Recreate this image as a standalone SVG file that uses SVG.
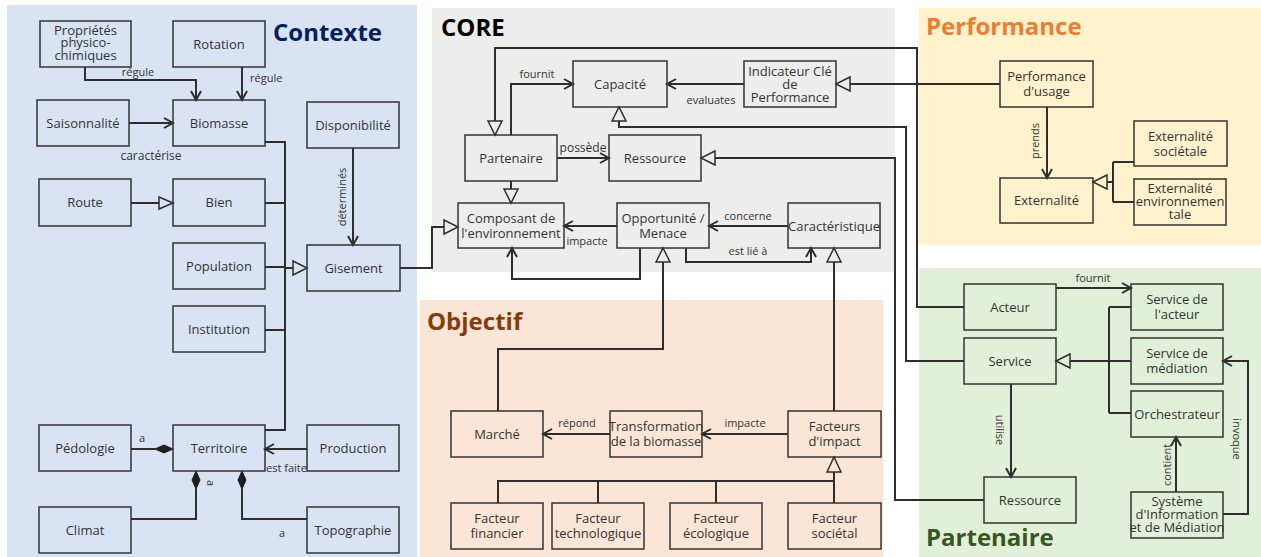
<svg xmlns="http://www.w3.org/2000/svg" width="1261" height="557" viewBox="0 0 1261 557">
<defs>
<marker id="open" markerUnits="userSpaceOnUse" markerWidth="12" markerHeight="12" refX="9" refY="5" orient="auto" overflow="visible">
<path d="M0,0 L9,5 L0,10" fill="none" stroke="#2e2e2e" stroke-width="2"/>
</marker>
<style>
.panel{stroke:none}
.n rect{fill:none;stroke:#333;stroke-width:1.5}
.n text,.lbl{font-family:"Open Sans","Noto Sans","DejaVu Sans",sans-serif;fill:#333}
.n text{font-size:13px;text-anchor:middle}
.lbl{font-size:11px}
.c path{fill:none;stroke:#2e2e2e;stroke-width:2}
.c .a{marker-end:url(#open)}
.tri{stroke:#2e2e2e;stroke-width:1.5}
.dia{fill:#1f1f1f;stroke:#1f1f1f;stroke-width:1}
.title{font-family:"Open Sans","Noto Sans",sans-serif;font-weight:bold;font-size:24px}
</style>
</defs>
<rect width="1261" height="557" fill="#ffffff"/>
<!-- panels -->
<rect class="panel" x="7" y="5" width="410" height="552" fill="#dae3f3"/>
<rect class="panel" x="432" y="8" width="463" height="264" fill="#ededed"/>
<rect class="panel" x="420" y="300" width="463" height="257" fill="#fbe5d6"/>
<rect class="panel" x="919" y="8" width="342" height="237" fill="#fff2cc"/>
<rect class="panel" x="919" y="268" width="342" height="289" fill="#e2f0d9"/>
<text class="title" x="273" y="41" fill="#002060">Contexte</text>
<text class="title" x="441" y="36" fill="#000000">CORE</text>
<text class="title" x="926" y="35" fill="#ed7d31">Performance</text>
<text class="title" x="427" y="330" fill="#843c0c">Objectif</text>
<text class="title" x="926" y="546" fill="#375623">Partenaire</text>

<!-- connectors -->
<g id="connectors" class="c">
<!-- Contexte -->
<path class="a" d="M85,67 V80 H196 V100"/>
<path class="a" d="M242,67 V100"/>
<path class="a" d="M129,123 H173"/>
<path d="M131,203 H159"/>
<polygon class="tri" points="159,197 173,203 159,209" fill="#dae3f3"/>
<path d="M265,142 H285 V430 H265"/>
<path d="M265,203 H285 M265,267 H285 M265,330 H285"/>
<path d="M285,268 H293"/>
<polygon class="tri" points="293,261 307,268 293,275" fill="#dae3f3"/>
<path class="a" d="M353,148 V245"/>
<path d="M400,268 H432 V227 H444"/>
<polygon class="tri" points="444,220 458,227 444,234" fill="#ededed"/>
<path d="M131,449 H155"/>
<polygon class="dia" points="155,449 164,445 173,449 164,453"/>
<path class="a" d="M307,449 H265"/>
<path d="M131,519 H196 V489"/>
<polygon class="dia" points="196,489 192,480 196,471 200,480"/>
<path d="M307,519 H242 V489"/>
<polygon class="dia" points="242,489 238,480 242,471 246,480"/>
<!-- CORE -->
<path class="a" d="M744,84 H667"/>
<path d="M1000,84 H850"/>
<polygon class="tri" points="850,77 836,84 850,91" fill="#ededed"/>
<path d="M964,307 H917 V48 H495 V121"/>
<polygon class="tri" points="488,121 495,135 502,121" fill="#ededed"/>
<path d="M964,361 H906 V127 H619 V121"/>
<polygon class="tri" points="612,121 619,107 626,121" fill="#ededed"/>
<path d="M984,500 H895 V158 H715"/>
<polygon class="tri" points="715,151 701,158 715,165" fill="#ededed"/>
<path class="a" d="M557,158 H609"/>
<path class="a" d="M511,135 V84 H573"/>
<path d="M511,181 V189"/>
<polygon class="tri" points="504,189 511,203 518,189" fill="#ededed"/>
<path class="a" d="M617,226 H564"/>
<path class="a" d="M788,226 H709"/>
<path class="a" d="M686,248 V262 H811 V248"/>
<path class="a" d="M640,248 V279 H512 V248"/>
<path d="M498,411 V349 H663 V262"/>
<polygon class="tri" points="656,262 663,248 670,262" fill="#ededed"/>
<path d="M834,411 V262"/>
<polygon class="tri" points="827,262 834,248 841,262" fill="#ededed"/>
<!-- Objectif -->
<path class="a" d="M610,434 H543"/>
<path class="a" d="M788,434 H702"/>
<path d="M834,472 V503 M834,481 H498 V503 M598,481 V503 M716,481 V503"/>
<polygon class="tri" points="827,472 834,457 841,472" fill="#fbe5d6"/>
<!-- Performance -->
<path class="a" d="M1047,107 V178"/>
<path d="M1107,182 H1113 M1113,162 V202 M1113,162 H1134 M1113,202 H1134"/>
<polygon class="tri" points="1107,175 1093,182 1107,189" fill="#fff2cc"/>
<!-- Partenaire -->
<path class="a" d="M1056,288 H1131"/>
<path d="M1070,361 H1131 M1109,307 V413 M1109,307 H1131 M1109,413 H1131"/>
<polygon class="tri" points="1070,354 1056,361 1070,368" fill="#e2f0d9"/>
<path class="a" d="M1011,384 V477"/>
<path class="a" d="M1176,492 V437"/>
<path class="a" d="M1223,514 H1248 V361 H1223"/>
</g>

<!-- connector labels -->
<g id="labels">
<text class="lbl" x="138" y="76" text-anchor="middle">régule</text>
<text class="lbl" x="250" y="82">régule</text>
<text class="lbl" x="151" y="160" text-anchor="middle" style="font-size:12px">caractérise</text>
<text class="lbl" transform="translate(346,197) rotate(-90)" text-anchor="middle">déterminés</text>
<text class="lbl" x="142" y="442" text-anchor="middle">a</text>
<text class="lbl" x="266" y="472">est faite</text>
<text class="lbl" transform="translate(207,483) rotate(90)" text-anchor="middle">a</text>
<text class="lbl" x="282" y="537" text-anchor="middle">a</text>
<text class="lbl" x="711" y="104" text-anchor="middle">evaluates</text>
<text class="lbl" x="537" y="78" text-anchor="middle">fournit</text>
<text class="lbl" x="583" y="152" text-anchor="middle" style="font-size:12px">possède</text>
<text class="lbl" x="587" y="245" text-anchor="middle">impacte</text>
<text class="lbl" x="748" y="220" text-anchor="middle">concerne</text>
<text class="lbl" x="748" y="255" text-anchor="middle">est lié à</text>
<text class="lbl" x="577" y="427" text-anchor="middle">répond</text>
<text class="lbl" x="745" y="427" text-anchor="middle">impacte</text>
<text class="lbl" transform="translate(1039,141) rotate(-90)" text-anchor="middle">prends</text>
<text class="lbl" x="1093" y="282" text-anchor="middle">fournit</text>
<text class="lbl" transform="translate(996,430) rotate(90)" text-anchor="middle">utilise</text>
<text class="lbl" transform="translate(1171,465) rotate(-90)" text-anchor="middle">contient</text>
<text class="lbl" transform="translate(1233,439) rotate(90)" text-anchor="middle">invoque</text>
</g>

<!-- Contexte nodes -->
<g id="proprietes" class="n"><rect x="40" y="21" width="91" height="46"/><text x="85.5" y="35">Propriétés</text><text x="85.5" y="47">physico-</text><text x="85.5" y="60">chimiques</text></g>
<g id="rotation" class="n"><rect x="173" y="21" width="92" height="46"/><text x="219" y="48.5">Rotation</text></g>
<g id="saisonnalite" class="n"><rect x="37" y="100" width="92" height="46"/><text x="83" y="127.5">Saisonnalité</text></g>
<g id="biomasse" class="n"><rect x="173" y="100" width="92" height="46"/><text x="219" y="127.5">Biomasse</text></g>
<g id="disponibilite" class="n"><rect x="307" y="102" width="92" height="46"/><text x="353" y="129.5">Disponibilité</text></g>
<g id="route" class="n"><rect x="39" y="179" width="92" height="47"/><text x="85" y="207">Route</text></g>
<g id="bien" class="n"><rect x="173" y="179" width="92" height="47"/><text x="219" y="207">Bien</text></g>
<g id="population" class="n"><rect x="173" y="243" width="92" height="46"/><text x="219" y="270.5">Population</text></g>
<g id="institution" class="n"><rect x="173" y="306" width="92" height="46"/><text x="219" y="333.5">Institution</text></g>
<g id="gisement" class="n"><rect x="307" y="245" width="93" height="46"/><text x="353.5" y="272.5">Gisement</text></g>
<g id="pedologie" class="n"><rect x="39" y="425" width="92" height="46"/><text x="85" y="452.5">Pédologie</text></g>
<g id="territoire" class="n"><rect x="173" y="425" width="92" height="46"/><text x="219" y="452.5">Territoire</text></g>
<g id="production" class="n"><rect x="307" y="425" width="92" height="46"/><text x="353" y="452.5">Production</text></g>
<g id="climat" class="n"><rect x="39" y="507" width="92" height="46"/><text x="85" y="534.5">Climat</text></g>
<g id="topographie" class="n"><rect x="307" y="507" width="92" height="46"/><text x="353" y="534.5">Topographie</text></g>

<!-- CORE nodes -->
<g id="capacite" class="n"><rect x="573" y="61" width="94" height="46"/><text x="620" y="88.5">Capacité</text></g>
<g id="indicateur" class="n"><rect x="744" y="61" width="92" height="46"/><text x="790" y="76">Indicateur Clé</text><text x="790" y="89">de</text><text x="790" y="102">Performance</text></g>
<g id="partenaire-core" class="n"><rect x="465" y="135" width="92" height="46"/><text x="511" y="162.5">Partenaire</text></g>
<g id="ressource-core" class="n"><rect x="609" y="135" width="92" height="46"/><text x="655" y="162.5">Ressource</text></g>
<g id="composant" class="n"><rect x="458" y="203" width="106" height="45"/><text x="511" y="223">Composant de</text><text x="511" y="238">l'environnement</text></g>
<g id="opportunite" class="n"><rect x="617" y="203" width="92" height="45"/><text x="663" y="223">Opportunité /</text><text x="663" y="238">Menace</text></g>
<g id="caracteristique" class="n"><rect x="788" y="203" width="92" height="45"/><text x="834" y="230.5">Caractéristique</text></g>

<!-- Objectif nodes -->
<g id="marche" class="n"><rect x="451" y="411" width="92" height="46"/><text x="497" y="438.5">Marché</text></g>
<g id="transformation" class="n"><rect x="610" y="411" width="92" height="46"/><text x="656" y="431">Transformation</text><text x="656" y="446">de la biomasse</text></g>
<g id="facteurs-impact" class="n"><rect x="788" y="411" width="93" height="46"/><text x="834.5" y="431">Facteurs</text><text x="834.5" y="446">d'impact</text></g>
<g id="facteur-financier" class="n"><rect x="451" y="503" width="92" height="46"/><text x="497" y="523">Facteur</text><text x="497" y="538">financier</text></g>
<g id="facteur-techno" class="n"><rect x="552" y="503" width="92" height="46"/><text x="598" y="523">Facteur</text><text x="598" y="538">technologique</text></g>
<g id="facteur-ecologique" class="n"><rect x="670" y="503" width="92" height="46"/><text x="716" y="523">Facteur</text><text x="716" y="538">écologique</text></g>
<g id="facteur-societal" class="n"><rect x="788" y="503" width="93" height="46"/><text x="834.5" y="523">Facteur</text><text x="834.5" y="538">sociétal</text></g>

<!-- Performance nodes -->
<g id="performance-usage" class="n"><rect x="1000" y="61" width="93" height="46"/><text x="1046.5" y="81">Performance</text><text x="1046.5" y="96">d'usage</text></g>
<g id="externalite" class="n"><rect x="1000" y="178" width="93" height="45"/><text x="1046.5" y="205">Externalité</text></g>
<g id="externalite-societale" class="n"><rect x="1134" y="121" width="93" height="45"/><text x="1180.5" y="141">Externalité</text><text x="1180.5" y="156">sociétale</text></g>
<g id="externalite-env" class="n"><rect x="1134" y="179" width="92" height="46"/><text x="1180" y="193">Externalité</text><text x="1180" y="206">environnemen</text><text x="1180" y="219">tale</text></g>

<!-- Partenaire nodes -->
<g id="acteur" class="n"><rect x="964" y="284" width="92" height="46"/><text x="1010" y="311.5">Acteur</text></g>
<g id="service" class="n"><rect x="964" y="338" width="92" height="46"/><text x="1010" y="365.5">Service</text></g>
<g id="service-acteur" class="n"><rect x="1131" y="284" width="92" height="46"/><text x="1177" y="304">Service de</text><text x="1177" y="319">l'acteur</text></g>
<g id="service-mediation" class="n"><rect x="1131" y="338" width="92" height="46"/><text x="1177" y="358">Service de</text><text x="1177" y="373">médiation</text></g>
<g id="orchestrateur" class="n"><rect x="1131" y="391" width="92" height="46"/><text x="1177" y="418.5">Orchestrateur</text></g>
<g id="sim" class="n"><rect x="1131" y="492" width="92" height="46"/><text x="1177" y="506">Système</text><text x="1177" y="519">d'Information</text><text x="1177" y="532">et de Médiation</text></g>
<g id="ressource-partenaire" class="n"><rect x="984" y="477" width="92" height="46"/><text x="1030" y="504.5">Ressource</text></g>
</svg>
